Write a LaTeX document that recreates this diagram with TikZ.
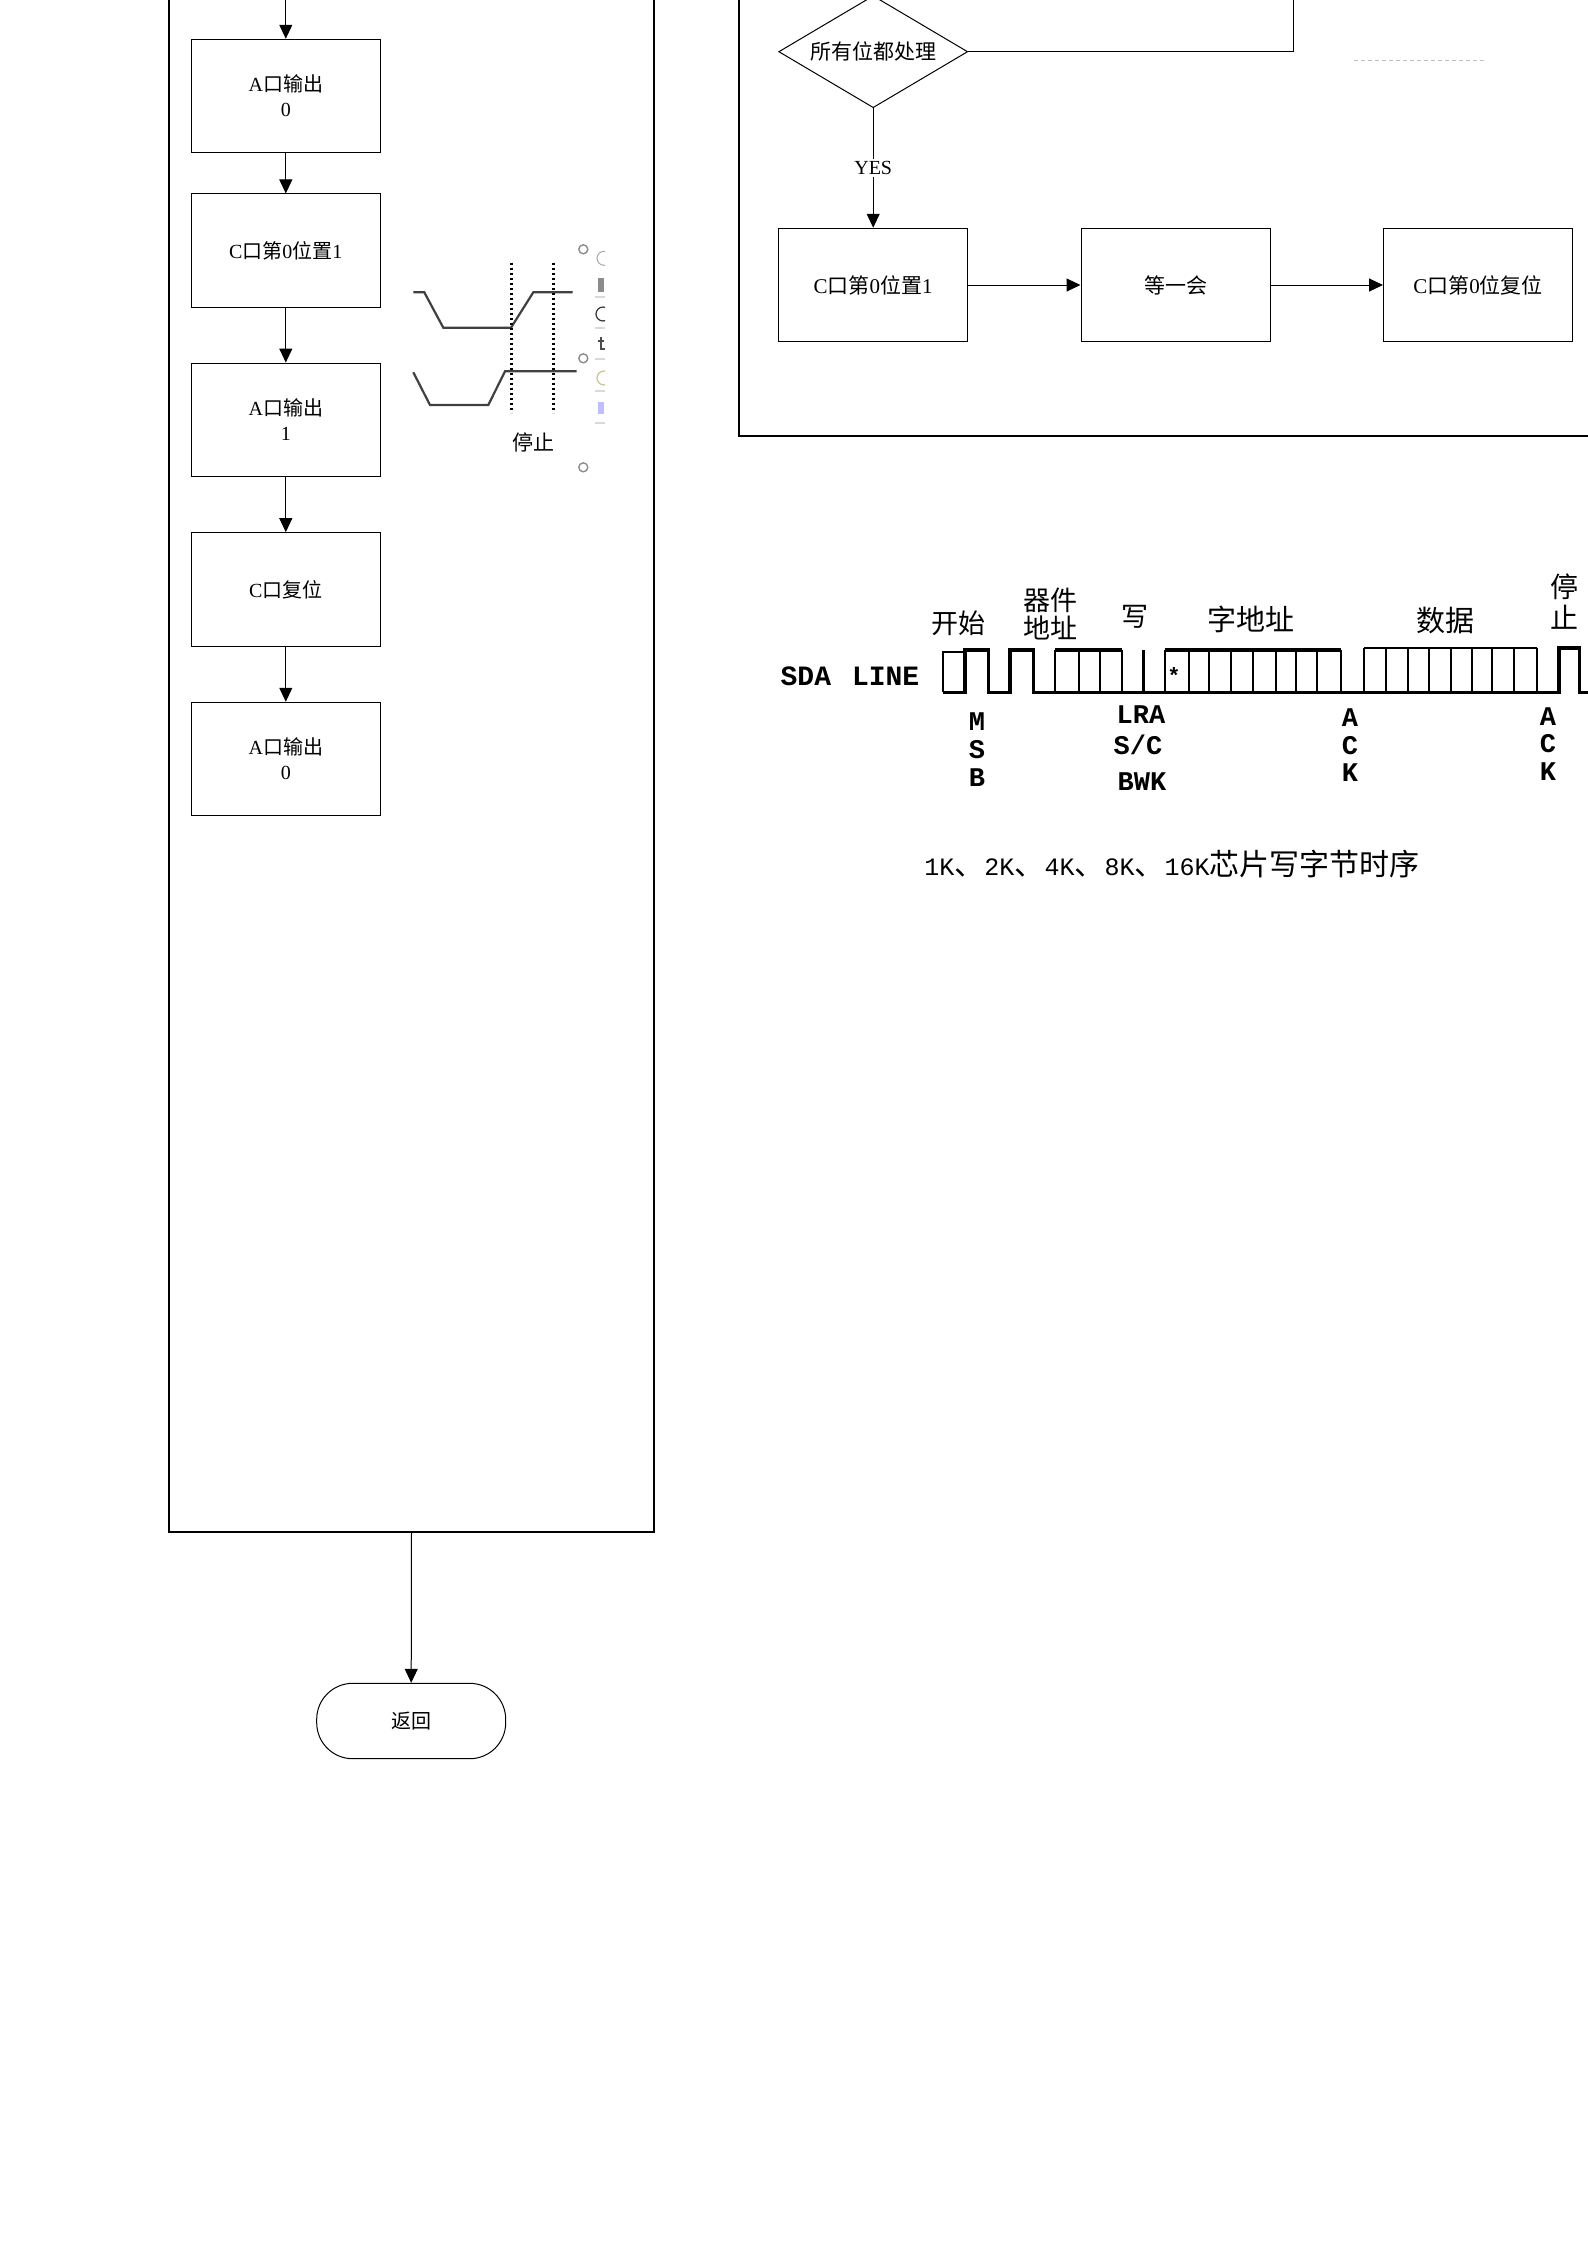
\documentclass[tikz,border=0pt]{standalone}
\usepackage{fontspec}
\setmainfont{Liberation Serif}
\setmonofont{Liberation Mono}
\newfontfamily\cjk{Noto Sans CJK SC}
\newcommand{\cn}[1]{{\cjk #1}}
\usetikzlibrary{arrows.meta,shapes.geometric,positioning}

\begin{document}
\begin{tikzpicture}
[x=0.5pt,y=-0.5pt,
frame/.style={draw,line width=1pt,inner sep=0pt},
stepbox/.style={draw,line width=0.5pt,minimum width=94.5pt,minimum height=56.75pt,inner sep=0pt,align=center,font=\fontsize{10}{12.5}\selectfont},
wide/.style={font=\fontsize{10.5}{12.5}\selectfont},
flow/.style={-{Triangle[length=7pt,width=6.5pt]},line width=0.5pt},
wave/.style={line width=1.8pt,line join=miter},
cell/.style={line width=1pt},
sig/.style={line width=1.1pt,black!75},
mark dots/.style={line width=1.5pt,dash pattern=on 1.2pt off 1.3pt},
lab/.style={inner sep=0pt,font=\fontsize{13.5}{15}\selectfont\cjk},
bit/.style={inner sep=0pt,font=\fontsize{13.5}{15}\selectfont\ttfamily\bfseries}]

\useasboundingbox (0,0) rectangle (1587,2245);

% left flow
\node[frame,minimum width=242.8pt,minimum height=785.85pt] (leftframe) at (411.5,745.85) {};
\coordinate (topin) at (285.8,-20);

\node[stepbox] (aout0) at (285.8,96) {A\cn{口输出}\\0};
\node[stepbox] (cset) at (285.8,250.7) {C\cn{口第}0\cn{位置}1};
\node[stepbox] (aout1) at (285.8,419.8) {A\cn{口输出}\\1};
\node[stepbox] (cclr) at (285.8,589.4) {C\cn{口复位}};
\node[stepbox] (aout2) at (285.8,759) {A\cn{口输出}\\0};

\draw [flow] (topin) -- (aout0);
\draw [flow] (aout0) -- (cset);
\draw [flow] (cset) -- (aout1);
\draw [flow] (aout1) -- (cclr);
\draw [flow] (cclr) -- (aout2);

\node[draw,line width=0.5pt,rounded corners=18pt,minimum width=94.5pt,minimum height=37.7pt,inner sep=0pt,font=\fontsize{10}{12.5}\selectfont\cjk] (back) at (411.2,1721) {返回};
\draw [flow] (leftframe.south) -- (back.north);

% stop waveform
\draw [sig] (413.3,292.3) -- (424.3,292.3) -- (443.3,327.7) -- (511,327.7) -- (533.3,292.3) -- (572.7,292.3);
\draw [sig] (413.3,372.3) -- (430,405) -- (488.3,405) -- (505,371.3) -- (576.7,371.3);
\draw [mark dots] (511,262.7) -- (511,412.7);
\draw [mark dots] (553.7,262.7) -- (553.7,412.7);
\node[inner sep=0pt,font=\fontsize{10.5}{12}\selectfont\cjk] (stoptext) at (533,442) {停止};

\foreach \y in {249.3,358.3,467.3}
  \draw [black!45,line width=0.7pt] (583.3,\y) circle [radius=2.25pt];

% side panel remains
\begin{scope}
\clip (592,240) rectangle (605,430);
\foreach \y in {296,327,358,390,422}
  \fill [black!15] (595,\y) rectangle (605,\y+1.5);
\draw [black!35,line width=0.5pt] (604,258.3) circle [radius=3.5pt];
\fill [black!45] (598,278) rectangle (604,292);
\draw [black!80,line width=0.6pt] (603,314) circle [radius=3.5pt];
\draw [black!70,line width=0.6pt] (601,337) -- (601,349) -- (605,349);
\draw [black!70,line width=0.6pt] (598,341) -- (604,341);
\draw [yellow!50!black!50,line width=0.6pt] (604,378) circle [radius=3.5pt];
\fill [blue!25] (598,402) rectangle (604,414);
\end{scope}

% right flow
\node[frame,minimum width=460.5pt,minimum height=237.85pt] (rightframe) at (1199.5,197.85) {};

\node[draw,diamond,aspect=1.7,line width=0.5pt,minimum width=94.5pt,minimum height=56pt,inner sep=0pt,font=\fontsize{10.5}{12.5}\selectfont\cjk] (alldone) at (873.2,51.7) {所有位都处理};
\coordinate (backup) at (1293,-20);
\draw [line width=0.5pt] (alldone.east) -| (backup);

\node[stepbox,wide] (bitset) at (873.2,285) {C\cn{口第}0\cn{位置}1};
\node[stepbox,wide] (pause) at (1175.5,285) {\cn{等一会}};
\node[stepbox,wide] (bitclr) at (1478,285) {C\cn{口第}0\cn{位复位}};

\draw [flow] (alldone) -- node[fill=white,inner sep=1pt,font=\fontsize{10}{12}\selectfont] {YES} (bitset);
\draw [flow] (bitset) -- (pause);
\draw [flow] (pause) -- (bitclr);

\draw [black!25,line width=0.5pt,dash pattern=on 2pt off 1.5pt] (1354,60.5) -- (1484,60.5);

% write timing
\node[bit,font=\fontsize{14}{15}\selectfont\ttfamily\bfseries] (sda) at (850,676) {SDA\hspace{10.5pt}LINE};

\draw [wave] (942.7,692.3) -- (965,692.3) -- (965,650) -- (988.3,650) -- (988.3,692.3) -- (1010,692.3) -- (1010,650) -- (1033.3,650) -- (1033.3,692.3) -- (1559,692.3) -- (1559,647.7) -- (1579.3,647.7) -- (1579.3,692.3) -- (1600,692.3);
\draw [cell] (965,651.5) -- (942.7,651.5) -- (942.7,692.3);
\draw [wave] (1055,650) -- (1121.7,650);
\draw [wave] (1165,650) -- (1341,650);
\draw [cell] (1364,647.7) -- (1537.3,647.7);
\draw [wave] (1143.3,650) -- (1143.3,692.3);
\foreach \x in {1055,1079.3,1100,1121.7,1165,1189.3,1209.3,1230.7,1252.7,1276,1295.7,1316.7,1341}
  \draw [cell] (\x,650) -- (\x,692.3);
\foreach \x in {1364,1386,1407.7,1429.3,1450.7,1472.3,1492.3,1514,1537.3}
  \draw [cell] (\x,647.7) -- (\x,692.3);
\node[inner sep=0pt,font=\fontsize{11}{12}\selectfont\ttfamily\bfseries] (star) at (1174,676) {*};

\node[lab] (start) at (958,623) {开始};
\node[lab] (devaddr) at (1050,614) [align=center] {器件\\[-1pt]地址};
\node[lab] (wr) at (1135,617) {写};
\node[lab,font=\fontsize{14.5}{15}\selectfont\cjk] (wordaddr) at (1251,619) {字地址};
\node[lab,font=\fontsize{14.5}{15}\selectfont\cjk] (dat) at (1445,620) {数据};
\node[lab,font=\fontsize{14}{15}\selectfont\cjk] (halt1) at (1564,587) {停};
\node[lab,font=\fontsize{14}{15}\selectfont\cjk] (halt2) at (1564,617) {止};

\node[bit] (msb1) at (977,722) {M};
\node[bit] (msb2) at (977,750) {S};
\node[bit] (msb3) at (977,778) {B};
\node[bit] (lra) at (1141,715) {LRA};
\node[bit] (sc) at (1138,745) {S/C};
\node[bit] (bwk) at (1142,782) {BWK};
\node[bit] (ack1) at (1350,718) {A};
\node[bit] (ack2) at (1350,746) {C};
\node[bit] (ack3) at (1350,773) {K};
\node[bit] (ack4) at (1548,717) {A};
\node[bit] (ack5) at (1548,744) {C};
\node[bit] (ack6) at (1548,772) {K};

\node[inner sep=0pt,font=\fontsize{12.5}{15}\selectfont\ttfamily] (caption) at (1172,864) {1K\cn{\fontsize{15}{15}\selectfont 、}2K\cn{\fontsize{15}{15}\selectfont 、}4K\cn{\fontsize{15}{15}\selectfont 、}8K\cn{\fontsize{15}{15}\selectfont 、}16K\cn{\fontsize{15}{15}\selectfont 芯片写字节时序}};
\end{tikzpicture}
\end{document}
